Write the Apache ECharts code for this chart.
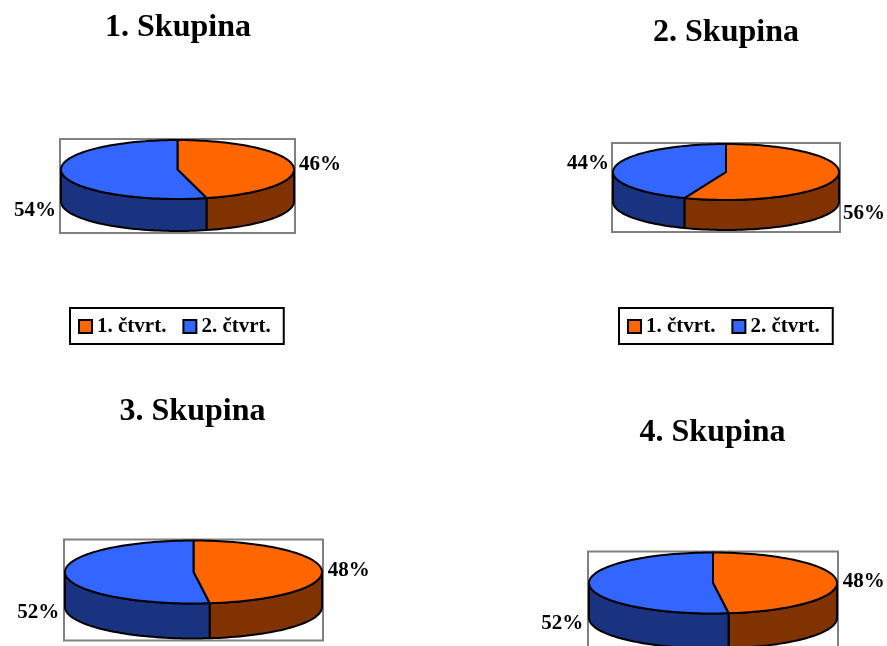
<!DOCTYPE html>
<html><head><meta charset="utf-8">
<script src="https://cdn.jsdelivr.net/npm/echarts@6/dist/echarts.min.js"></script>
<style>html,body{margin:0;padding:0;background:#fff}#c{width:887px;height:646px}</style>
</head><body><div id="c"></div>
<script>
// ---- data ----
const categories = ['1. čtvrt.', '2. čtvrt.'];
const groups = ['1. Skupina', '2. Skupina', '3. Skupina', '4. Skupina'];
const q1Values = [46, 56, 48, 48];
const q2Values = [54, 44, 52, 52];
const seriesValues = [q1Values, q2Values];

// ---- layout (positions / sizes only) ----
const layout = [
  {cx: 177.5, cy: 169.5, rx: 116.5, ry: 29.5, depth: 32, titleX: 178,   titleBase: 39},
  {cx: 726,   cy: 172,   rx: 113,   ry: 28,   depth: 30, titleX: 726,   titleBase: 44},
  {cx: 193.5, cy: 572,   rx: 128.5, ry: 31.5, depth: 35, titleX: 192.5, titleBase: 423},
  {cx: 713,   cy: 583,   rx: 124,   ry: 30.5, depth: 35, titleX: 712.5, titleBase: 444}
];
const legendLefts = [70, 619];
const topColors = ['#FF6600', '#3366FF'];
const sideColors = ['#803300', '#1A3380'];
const FONT = '"Liberation Serif", "Times New Roman", serif';

function pt(g, deg, dy) {
  const t = deg * Math.PI / 180;
  return [g.cx + g.rx * Math.sin(t), g.cy - g.ry * Math.cos(t) + dy];
}
function arc(g, a, b, dy) {
  const pts = [];
  const n = Math.max(2, Math.ceil(Math.abs(b - a) / 2));
  for (let k = 0; k <= n; k++) pts.push(pt(g, a + (b - a) * k / n, dy));
  return pts;
}

function renderSlice(params, api) {
  const s = params.seriesIndex, i = params.dataIndex;
  const g = layout[i];
  let total = 0, before = 0;
  seriesValues.forEach((arr, k) => { total += arr[i]; if (k < s) before += arr[i]; });
  const v = api.value(0);
  const a = before / total * 360, b = (before + v) / total * 360;
  const children = [];
  const fa = Math.max(a, 90), fb = Math.min(b, 270);
  if (fb > fa) {
    const pts = arc(g, fa, fb, 0).concat(arc(g, fb, fa, g.depth));
    children.push({type: 'polygon', shape: {points: pts},
      style: {fill: sideColors[s], stroke: '#000', lineWidth: 2, lineJoin: 'round'}});
  }
  const topPts = [[g.cx, g.cy]].concat(arc(g, a, b, 0));
  children.push({type: 'polygon', shape: {points: topPts},
    style: {fill: topColors[s], stroke: '#000', lineWidth: 2, lineJoin: 'round'}});
  const m = (a + b) / 2 * Math.PI / 180;
  const sn = Math.sin(m), cs = Math.cos(m);
  const right = sn >= 0;
  const lx = g.cx + sn * g.rx + (right ? 6 : -6);
  const ly = g.cy - g.ry * 1.9 * cs + (cs < 0 ? g.depth : 0) + 2;
  children.push({type: 'text', x: lx, y: ly, style: {
    text: Math.round(v / total * 100) + '%', fill: '#000',
    font: 'bold 21px ' + FONT, align: right ? 'left' : 'right', verticalAlign: 'middle'}});
  return {type: 'group', children: children};
}

const chart = echarts.init(document.getElementById('c'), null, {renderer: 'canvas'});
chart.setOption({
  backgroundColor: '#fff',
  animation: false,
  title: groups.map((t, i) => ({
    text: t, left: layout[i].titleX, top: layout[i].titleBase - 27, textAlign: 'center', padding: 0,
    textStyle: {fontFamily: FONT, fontWeight: 'bold', fontSize: 32, color: '#000'}
  })),
  legend: legendLefts.map(l => ({
    data: categories, left: l, top: 308, orient: 'horizontal', icon: 'rect',
    itemWidth: 13, itemHeight: 13, itemGap: 16, selectedMode: false,
    itemStyle: {borderColor: '#000', borderWidth: 2},
    textStyle: {fontFamily: FONT, fontWeight: 'bold', fontSize: 21, color: '#000'},
    backgroundColor: '#fff', borderColor: '#000', borderWidth: 2, padding: [8, 13, 7, 8]
  })),
  graphic: layout.map(g => ({
    type: 'rect', z: 0,
    shape: {x: g.cx - g.rx - 1, y: g.cy - g.ry - 1, width: 2 * g.rx + 2, height: 2 * g.ry + g.depth + 3},
    style: {fill: 'none', stroke: '#808080', lineWidth: 2}
  })),
  series: categories.map((name, s) => ({
    type: 'custom', name: name, coordinateSystem: 'none',
    itemStyle: {color: topColors[s]},
    renderItem: renderSlice,
    data: seriesValues[s].map(v => [v])
  }))
});
</script></body></html>
